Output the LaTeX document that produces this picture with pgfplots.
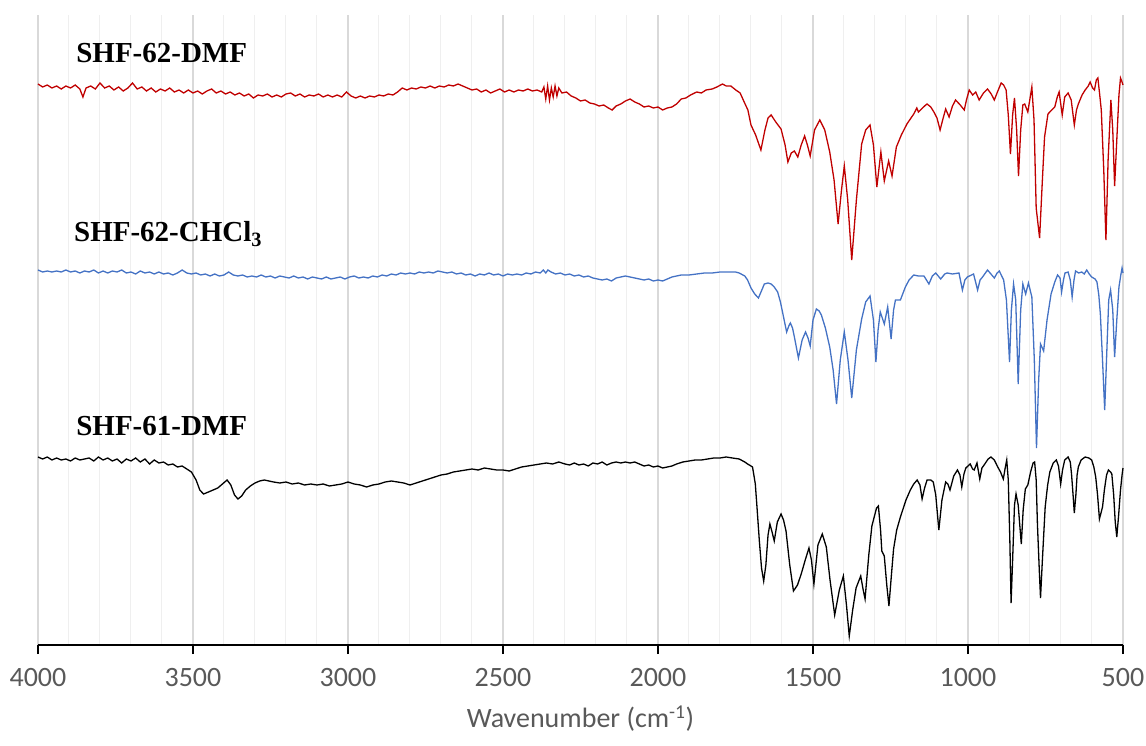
\documentclass[border=0pt]{standalone}
\usepackage{fontspec}
\setmainfont{Carlito}
\newfontfamily\labfont{Liberation Serif}
\usepackage{pgfplots}
\pgfplotsset{compat=1.18}
\definecolor{irred}{HTML}{C00000}
\definecolor{irblue}{HTML}{4472C4}
\definecolor{ticktext}{HTML}{595959}
\definecolor{majgrid}{HTML}{D9D9D9}
\definecolor{mingrid}{HTML}{EFEFEF}

\begin{document}
\begin{tikzpicture}[x=1pt,y=1pt]
\path[use as bounding box] (0,0) rectangle (1146,745);
\begin{axis}[
    at={(38pt,100pt)}, anchor=south west,
    width=1085pt, height=630pt, scale only axis,
    x dir=reverse,
    xmin=500, xmax=4000, ymin=0, ymax=630,
    axis x line=bottom, axis y line=none,
    x axis line style={-, line width=1.8pt, black},
    xtick={500,1000,...,4000},
    minor xtick={600,700,...,3900},
    xmajorgrids, xminorgrids,
    major grid style={majgrid, line width=1.2pt},
    minor grid style={mingrid, line width=1.0pt},
    tick align=outside,
    major tick length=9pt, minor tick length=0pt,
    x tick style={black, line width=1.5pt},
    /pgf/number format/assume math mode=true,
    /pgf/number format/1000 sep={},
    xticklabel style={font=\fontsize{28}{30}\selectfont, text=ticktext, yshift=-11pt},
    xlabel={Wavenumber (cm\textsuperscript{-1})},
    xlabel style={font=\fontsize{28}{30}\selectfont, text=ticktext, yshift=-12pt},
    clip=false,
]
% SHF-62-DMF
\addplot[irred, line width=1.3pt] coordinates {
(4000,561) (3985,558) (3970,560) (3955,557) (3940,559) (3925,556) (3910,559) (3895,557)
(3880,560) (3865,556) (3855,548) (3845,557) (3830,559) (3815,556) (3800,562) (3785,557)
(3770,559) (3755,555) (3740,558) (3725,554) (3710,557) (3695,562) (3680,556) (3665,558)
(3650,554) (3635,557) (3620,553) (3605,556) (3590,554) (3575,557) (3560,553) (3545,555)
(3530,552) (3515,555) (3500,552) (3485,554) (3470,551) (3455,554) (3440,556) (3425,552)
(3410,554) (3395,551) (3380,553) (3365,550) (3350,552) (3335,549) (3320,551) (3305,547)
(3290,550) (3275,549) (3260,551) (3245,548) (3230,550) (3215,548) (3200,551) (3185,552)
(3170,549) (3155,551) (3140,548) (3125,550) (3110,549) (3095,551) (3080,548) (3065,550)
(3050,548) (3035,550) (3020,548) (3005,553) (2990,549) (2975,547) (2960,549) (2945,547)
(2930,549) (2915,548) (2900,550) (2885,549) (2870,551) (2855,550) (2840,553) (2825,557)
(2810,555) (2795,557) (2780,556) (2765,558) (2750,557) (2735,559) (2720,557) (2705,559)
(2690,558) (2675,560) (2660,559) (2645,561) (2630,559) (2615,557) (2600,555) (2585,556)
(2570,553) (2555,555) (2540,552) (2525,554) (2510,556) (2495,553) (2480,555) (2465,553)
(2450,555) (2435,554) (2420,556) (2405,554) (2390,555) (2375,553) (2368,558) (2362,546)
(2356,559) (2350,545) (2344,557) (2338,548) (2332,559) (2326,549) (2320,557) (2310,552)
(2295,553) (2280,549) (2265,547) (2250,544) (2235,545) (2220,542) (2205,541) (2190,539)
(2175,540) (2160,537) (2148,535) (2135,539) (2120,541) (2105,544) (2090,546) (2075,543)
(2060,541) (2045,538) (2030,539) (2015,537) (2000,538) (1985,535) (1970,537) (1955,538)
(1940,541) (1925,546) (1910,547) (1895,550) (1875,553) (1860,552) (1845,555) (1825,556)
(1810,558) (1792,561) (1780,559) (1765,559) (1749,555) (1735,552) (1722,543) (1710,535)
(1700,520) (1685,510) (1668,495) (1655,515) (1645,527) (1635,530) (1620,523) (1603,516)
(1590,500) (1581,483) (1570,492) (1560,494) (1549,488) (1538,500) (1527,509) (1518,500)
(1509,489) (1495,515) (1478,525) (1462,515) (1446,493) (1432,465) (1419,421) (1408,455)
(1399,479) (1388,445) (1375,385) (1360,445) (1343,501) (1330,515) (1316,520) (1305,500)
(1294,458) (1281,493) (1270,464) (1256,484) (1245,469) (1231,498) (1215,510) (1197,521)
(1175,531) (1165,537) (1160,533) (1153,535) (1140,539) (1132,541) (1120,538) (1110,533)
(1100,527) (1090,515) (1080,527) (1072,536) (1061,528) (1050,539) (1040,545) (1025,540)
(1012,535) (1005,545) (996,555) (985,550) (975,553) (964,545) (950,552) (937,556)
(925,551) (915,545) (905,553) (893,562) (885,560) (877,555) (870,530) (863,491)
(856,530) (850,547) (843,515) (837,469) (830,515) (823,540) (817,541) (807,533)
(794,558) (787,525) (780,437) (769,407) (760,465) (753,508) (742,531) (730,535)
(720,538) (712,548) (706,553) (696,530) (688,548) (677,552) (667,545) (657,520)
(650,535) (644,541) (632,550) (622,555) (612,559) (606,563) (598,557) (592,555)
(586,565) (581,567) (575,550) (570,535) (562,475) (555,405) (548,485) (539,545)
(533,515) (527,459) (520,505) (513,550) (508,567) (503,563) (500,560)
};
% SHF-62-CHCl3
\addplot[irblue, line width=1.3pt] coordinates {
(4000,375) (3985,373) (3970,374) (3955,373) (3940,374) (3925,373) (3910,375) (3895,373)
(3880,374) (3865,372) (3850,374) (3835,373) (3820,375) (3805,372) (3790,374) (3775,372)
(3760,374) (3745,373) (3730,375) (3715,372) (3700,373) (3685,371) (3670,374) (3655,372)
(3640,373) (3625,371) (3610,373) (3595,371) (3580,372) (3565,370) (3550,372) (3535,375)
(3520,372) (3505,371) (3490,372) (3475,370) (3460,371) (3445,369) (3430,371) (3415,369)
(3400,370) (3385,373) (3370,370) (3355,369) (3340,370) (3325,368) (3310,369) (3295,368)
(3280,370) (3265,368) (3250,369) (3235,367) (3220,369) (3205,368) (3190,367) (3175,369)
(3160,367) (3145,368) (3130,366) (3115,368) (3100,367) (3085,366) (3070,368) (3055,366)
(3040,367) (3025,368) (3010,366) (2995,368) (2980,369) (2965,367) (2950,368) (2935,367)
(2920,369) (2905,368) (2890,370) (2875,369) (2860,371) (2845,370) (2830,372) (2815,371)
(2800,372) (2785,371) (2770,373) (2755,372) (2740,373) (2725,372) (2710,374) (2695,373)
(2680,372) (2665,373) (2650,371) (2635,372) (2620,370) (2605,371) (2590,369) (2575,371)
(2560,370) (2545,372) (2530,370) (2515,371) (2500,369) (2485,371) (2470,370) (2455,371)
(2440,370) (2425,372) (2410,371) (2395,373) (2380,372) (2370,375) (2362,372) (2355,375)
(2345,373) (2330,371) (2315,372) (2300,370) (2285,371) (2270,369) (2255,370) (2240,368)
(2225,369) (2210,367) (2195,366) (2180,365) (2165,366) (2150,364) (2135,367) (2120,368)
(2105,369) (2090,368) (2075,367) (2060,366) (2045,365) (2030,366) (2015,364) (2000,365)
(1985,364) (1970,366) (1955,368) (1940,369) (1925,370) (1900,370) (1875,371) (1850,372)
(1825,372) (1800,373) (1775,373) (1750,373) (1738,372) (1720,369) (1711,365) (1700,357)
(1688,351) (1676,347) (1665,355) (1657,361) (1645,362) (1635,361) (1625,358) (1614,353)
(1605,343) (1597,331) (1585,313) (1578,319) (1573,322) (1566,317) (1560,308) (1547,287)
(1535,305) (1524,313) (1516,307) (1509,299) (1500,325) (1489,336) (1480,334) (1473,330)
(1460,317) (1446,298) (1435,275) (1424,241) (1412,285) (1399,313) (1387,285) (1375,247)
(1360,295) (1343,326) (1330,343) (1316,349) (1305,325) (1297,283) (1290,315) (1283,333)
(1270,321) (1259,338) (1248,306) (1240,335) (1234,345) (1218,345) (1202,358) (1190,365)
(1175,370) (1160,369) (1142,369) (1126,361) (1115,369) (1104,372) (1088,366) (1075,371)
(1067,372) (1050,371) (1029,372) (1018,355) (1010,365) (1002,368) (982,371) (969,355)
(961,365) (953,368) (937,375) (926,371) (915,367) (906,372) (899,374) (885,365)
(876,345) (866,283) (860,335) (853,361) (846,345) (838,261) (830,335) (823,361)
(814,351) (805,362) (794,348) (786,285) (779,197) (772,265) (766,301) (756,294)
(745,325) (732,351) (720,363) (711,370) (703,367) (698,353) (692,365) (687,372)
(677,373) (670,365) (664,348) (658,365) (653,374) (643,372) (633,373) (625,371)
(617,375) (609,371) (601,368) (590,366) (584,363) (578,350) (573,331) (566,285)
(559,235) (552,295) (546,345) (540,355) (533,335) (527,288) (520,325) (513,358)
(507,370) (503,377) (500,372)
};
% SHF-61-DMF
\addplot[black, line width=1.3pt] coordinates {
(4000,188) (3985,186) (3970,188) (3955,185) (3940,187) (3925,185) (3910,186) (3895,184)
(3880,187) (3865,185) (3850,186) (3835,187) (3820,184) (3805,188) (3790,185) (3775,187)
(3760,184) (3745,186) (3730,182) (3715,186) (3700,184) (3685,187) (3670,183) (3655,186)
(3640,181) (3625,185) (3610,182) (3595,183) (3580,180) (3565,181) (3550,178) (3535,179)
(3520,176) (3505,173) (3490,165) (3478,155) (3466,151) (3450,153) (3435,155) (3420,157)
(3405,161) (3390,165) (3378,160) (3366,150) (3355,146) (3343,149) (3330,155) (3315,159)
(3300,162) (3285,164) (3270,165) (3255,164) (3240,163) (3220,162) (3200,163) (3180,161)
(3160,162) (3140,160) (3120,161) (3100,160) (3080,161) (3060,159) (3040,160) (3020,161)
(3000,163) (2980,161) (2960,160) (2940,158) (2920,160) (2900,161) (2880,163) (2860,164)
(2840,163) (2820,162) (2800,160) (2780,162) (2760,164) (2740,166) (2720,168) (2700,170)
(2680,171) (2660,173) (2640,174) (2620,175) (2600,176) (2580,175) (2560,177) (2540,176)
(2520,175) (2500,175) (2480,174) (2460,176) (2440,178) (2420,179) (2400,180) (2380,181)
(2360,182) (2340,181) (2320,183) (2300,181) (2285,180) (2270,182) (2255,180) (2240,181)
(2225,179) (2210,182) (2195,181) (2180,183) (2165,180) (2150,182) (2135,183) (2120,182)
(2105,183) (2090,182) (2075,183) (2060,181) (2045,179) (2030,180) (2015,178) (2000,179)
(1985,177) (1970,178) (1955,179) (1940,181) (1920,183) (1900,184) (1880,185) (1860,185)
(1840,186) (1820,187) (1800,187) (1780,188) (1760,187) (1738,186) (1720,183) (1711,181)
(1700,179) (1695,178) (1686,161) (1680,135) (1673,104) (1666,77) (1659,64) (1652,80)
(1645,110) (1639,121) (1632,113) (1625,104) (1615,123) (1603,131) (1595,125) (1587,114)
(1575,80) (1563,54) (1550,60) (1538,71) (1525,85) (1513,97) (1505,85) (1497,61)
(1484,100) (1470,111) (1457,98) (1445,65) (1430,30) (1415,55) (1402,69) (1392,40)
(1383,9) (1372,35) (1361,57) (1346,69) (1338,55) (1332,46) (1320,90) (1310,119)
(1295,137) (1289,139) (1282,115) (1278,94) (1270,89) (1262,60) (1255,39) (1247,70)
(1240,96) (1230,115) (1218,128) (1200,145) (1186,155) (1175,161) (1164,165) (1155,160)
(1148,146) (1140,157) (1132,165) (1120,165) (1112,163) (1104,150) (1094,115) (1084,145)
(1072,163) (1065,161) (1058,155) (1046,169) (1034,175) (1026,170) (1020,158) (1013,171)
(1007,177) (993,181) (985,176) (980,175) (971,182) (962,166) (955,177) (948,180)
(935,186) (926,188) (915,185) (904,178) (895,173) (886,166) (880,177) (875,185)
(870,165) (865,105) (861,42) (856,85) (850,140) (845,151) (838,140) (833,120)
(828,101) (822,135) (815,156) (807,160) (798,173) (790,182) (785,183) (780,165)
(776,121) (770,75) (766,47) (760,85) (751,138) (743,160) (736,173) (725,182)
(715,185) (708,179) (701,161) (695,175) (688,185) (677,188) (670,183) (666,171)
(661,150) (657,132) (652,150) (648,170) (644,178) (635,185) (622,188) (610,187)
(601,185) (594,178) (588,168) (582,150) (576,126) (571,132) (566,138) (560,155)
(553,170) (547,175) (540,173) (536,171) (530,150) (525,123) (520,108) (514,130)
(508,155) (503,170) (500,177)
};
\node[anchor=base west, font=\labfont\bfseries\fontsize{29}{30}\selectfont, inner sep=0pt]
  at (axis cs:3877,582) {SHF-62-DMF};
\node[anchor=base west, font=\labfont\bfseries\fontsize{29}{30}\selectfont, inner sep=0pt]
  at (axis cs:3884,403) {SHF-62-CHCl\textsubscript{3}};
\node[anchor=base west, font=\labfont\bfseries\fontsize{29}{30}\selectfont, inner sep=0pt]
  at (axis cs:3877,209) {SHF-61-DMF};
\end{axis}
\end{tikzpicture}
\end{document}
